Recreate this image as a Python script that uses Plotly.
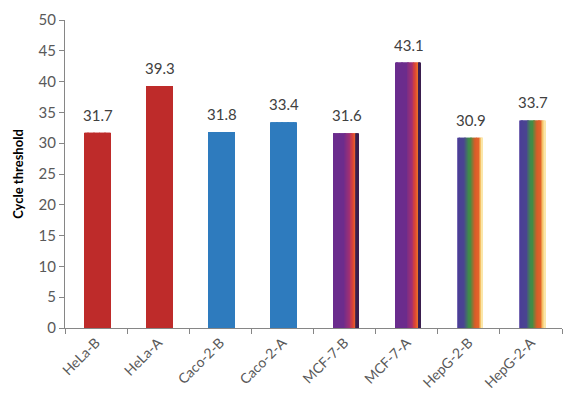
import plotly.graph_objects as go

categories = ["HeLa-B", "HeLa-A", "Caco-2-B", "Caco-2-A", "MCF-7-B", "MCF-7-A", "HepG-2-B", "HepG-2-A"]
values = [31.7, 39.3, 31.8, 33.4, 31.6, 43.1, 30.9, 33.7]
y_ticks = [0, 5, 10, 15, 20, 25, 30, 35, 40, 45, 50]

# Bar fill styles: list of (fraction, colour) gradient stops across the bar width
RED = [(0, "#BE2B2A"), (1, "#BE2B2A")]
BLUE = [(0, "#2E7BBE"), (1, "#2E7BBE")]
MCF = [(0, "#6A2C8E"), (0.45, "#6C2C8C"), (0.65, "#A22F72"), (0.8, "#DD4434"),
       (0.9, "#EE7426"), (0.92, "#3A1E4E"), (1.0, "#3A1E4E")]
HEP = [(0, "#8A7CC0"), (0.05, "#4A3E96"), (0.3, "#4A4690"), (0.45, "#3F8A4C"),
       (0.55, "#4A8C40"), (0.7, "#D85C28"), (0.85, "#E2622A"), (0.92, "#F6C66A"),
       (1.0, "#FCEFB8")]
styles = [RED, RED, BLUE, BLUE, MCF, MCF, HEP, HEP]


def hex2rgb(h):
    h = h.lstrip("#")
    return tuple(int(h[i:i + 2], 16) for i in (0, 2, 4))


def interp(stops, f):
    for (f0, c0), (f1, c1) in zip(stops[:-1], stops[1:]):
        if f0 <= f <= f1:
            t = 0 if f1 == f0 else (f - f0) / (f1 - f0)
            a, b = hex2rgb(c0), hex2rgb(c1)
            return "rgb(%d,%d,%d)" % tuple(round(a[k] + (b[k] - a[k]) * t) for k in range(3))
    return stops[-1][1]


BAR_W = 0.41
N = 30
sw = BAR_W / N

fig = go.Figure()
for i in range(N):
    f = (i + 0.5) / N
    fig.add_trace(go.Bar(
        x=categories, y=values,
        width=[sw * 1.15] * len(categories),
        offset=[-BAR_W / 2 + i * sw + 0.02] * len(categories),
        marker=dict(color=[interp(s, f) for s in styles], line=dict(width=0)),
        showlegend=False, hoverinfo="skip",
    ))

for c, v in zip(categories, values):
    fig.add_annotation(x=c, y=v, text=f"{v:.1f}", showarrow=False,
                       yanchor="bottom", yshift=7, xshift=2,
                       font=dict(family="Lato, Open Sans, sans-serif", size=15, color="#404040"))

fig.update_layout(
    width=574, height=399,
    margin=dict(l=65, r=12, t=20, b=71),
    paper_bgcolor="white", plot_bgcolor="white",
    barmode="overlay",
    font=dict(family="Lato, Open Sans, sans-serif", color="#595959"),
)
fig.update_xaxes(
    type="category", categoryorder="array", categoryarray=categories,
    showline=True, linecolor="#868686", linewidth=1,
    ticks="outside", tickson="boundaries", ticklen=5, tickcolor="#868686",
    tickangle=-45, tickfont=dict(size=14, color="#595959"),
    showgrid=False, zeroline=False, automargin=False,
)
fig.update_yaxes(
    range=[0, 50], tickvals=y_ticks,
    showline=True, linecolor="#868686", linewidth=1,
    ticks="outside", ticklen=5, tickcolor="#868686",
    tickfont=dict(size=15, color="#595959"),
    showgrid=False, zeroline=False, automargin=False,
    title=dict(text="<b>Cycle threshold</b>", font=dict(size=13, color="#000000"), standoff=12),
)

fig.write_html("out.html")
